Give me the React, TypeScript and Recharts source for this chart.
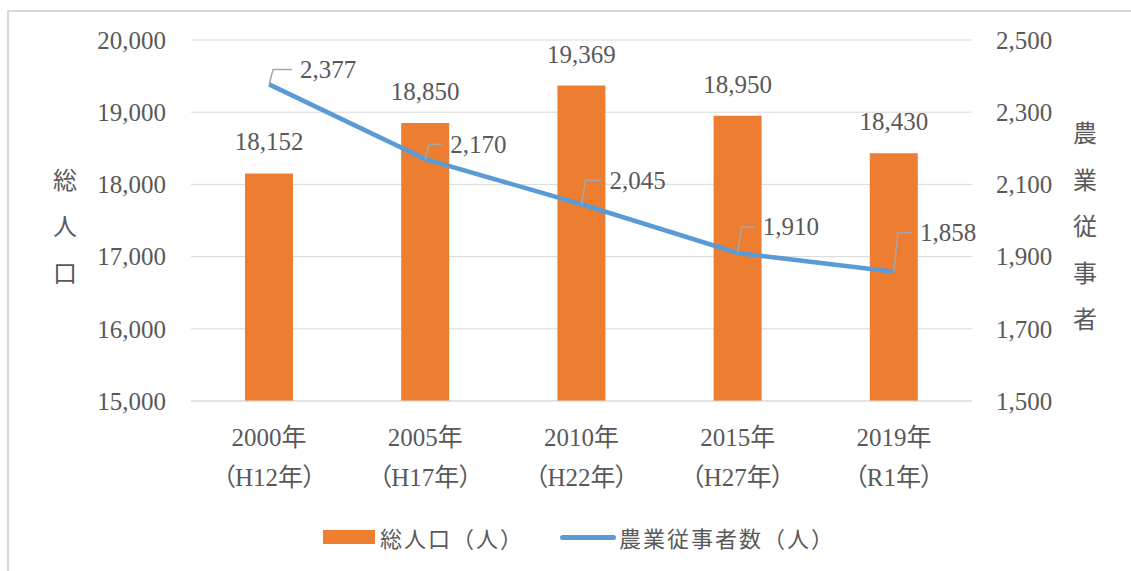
import React from "react";
import {
  ComposedChart,
  Bar,
  Line,
  XAxis,
  YAxis,
  CartesianGrid,
  Legend,
  LabelList,
} from "recharts";

// 年次
const years = ["2000年", "2005年", "2010年", "2015年", "2019年"];
const eras = ["（H12年）", "（H17年）", "（H22年）", "（H27年）", "（R1年）"];

// 総人口（人）
const population = [18152, 18850, 19369, 18950, 18430];
// 農業従事者数（人）
const farmers = [2377, 2170, 2045, 1910, 1858];

const leftTicks = [15000, 16000, 17000, 18000, 19000, 20000];
const rightTicks = [1500, 1700, 1900, 2100, 2300, 2500];

const leftTitle = ["総", "人", "口"];
const rightTitle = ["農", "業", "従", "事", "者"];

// ラベルのずらし量 (dx, dy) – 見た目の調整用
const lineLabelShift: [number, number][] = [
  [31, -15],
  [25, -15],
  [28, -24],
  [25, -26],
  [26, -39],
];

const data = years.map((y, i) => ({
  year: y,
  population: population[i],
  farmers: farmers[i],
}));

const TEXT = "#595959";
const GRID = "#D9D9D9";
const ORANGE = "#ED7D31";
const BLUE = "#5B9BD5";
const FONT = "'Liberation Serif', 'Noto Sans CJK JP', serif";
const fmt = (v: number) => v.toLocaleString("en-US");

const XTick = ({ x, y, payload }: any) => {
  const i = years.indexOf(payload.value);
  return (
    <g>
      <text
        x={x}
        y={y + 36}
        textAnchor="middle"
        dominantBaseline="central"
        fill={TEXT}
        fontSize={25}
        fontFamily={FONT}
      >
        {payload.value}
      </text>
      <text
        x={x}
        y={y + 76}
        textAnchor="middle"
        dominantBaseline="central"
        fill={TEXT}
        fontSize={25}
        fontFamily={FONT}
        style={{ fontFeatureSettings: '"palt"' }}
      >
        {eras[i]}
      </text>
    </g>
  );
};

const VerticalTitle = ({ viewBox, chars, dx }: any) => {
  const cx = viewBox.x + dx;
  const cy = 227;
  const step = 46.5;
  const start = cy - ((chars.length - 1) * step) / 2;
  return (
    <g>
      {chars.map((c: string, i: number) => (
        <text
          key={c + i}
          x={cx}
          y={start + i * step}
          textAnchor="middle"
          dominantBaseline="central"
          fill={TEXT}
          fontSize={24}
          fontFamily={FONT}
        >
          {c}
        </text>
      ))}
    </g>
  );
};

const BarValue = ({ x, y, width, value }: any) => (
  <text
    x={x + width / 2}
    y={y - 23}
    textAnchor="middle"
    fill={TEXT}
    fontSize={25}
    fontFamily={FONT}
  >
    {fmt(value)}
  </text>
);

const LineValue = ({ x, y, value, index }: any) => {
  const [dx, dy] = lineLabelShift[index] || [25, -20];
  const ly = y + dy;
  return (
    <g>
      <path
        d={`M${x},${y} L${x + 4},${ly} L${x + dx - 8},${ly}`}
        stroke="#A6A6A6"
        strokeWidth={1.5}
        fill="none"
      />
      <text
        x={x + dx}
        y={ly}
        textAnchor="start"
        dominantBaseline="central"
        fill={TEXT}
        fontSize={25}
        fontFamily={FONT}
      >
        {fmt(value)}
      </text>
    </g>
  );
};

const LegendBox = () => (
  <div
    style={{
      height: 40,
      display: "flex",
      alignItems: "center",
      paddingLeft: 323,
      fontFamily: FONT,
      fontSize: 22,
      letterSpacing: 2,
      color: TEXT,
    }}
  >
    <span style={{ width: 52, height: 14, background: ORANGE, display: "inline-block" }} />
    <span style={{ marginLeft: 5 }}>総人口（人）</span>
    <span
      style={{
        marginLeft: 36,
        width: 56,
        height: 5,
        borderRadius: 2.5,
        background: BLUE,
        display: "inline-block",
      }}
    />
    <span style={{ marginLeft: 3 }}>農業従事者数（人）</span>
  </div>
);

export default function App() {
  return (
    <div
      style={{
        position: "absolute",
        left: 0,
        top: 0,
        width: 1131,
        height: 571,
        background: "#fff",
        overflow: "hidden",
      }}
    >
      <div
        style={{
          position: "absolute",
          left: 7,
          top: 10,
          width: 1130,
          height: 570,
          borderTop: `2px solid ${GRID}`,
          borderLeft: `2px solid ${GRID}`,
        }}
      />
      <div style={{ position: "absolute", left: 0, top: 0 }}>
        <ComposedChart
          width={1131}
          height={571}
          data={data}
          margin={{ top: 40, right: 0, bottom: 14, left: 0 }}
        >
          <CartesianGrid vertical={false} stroke={GRID} yAxisId="left" />
          <XAxis
            dataKey="year"
            height={116}
            tickLine={false}
            tickSize={0}
            tickMargin={0}
            axisLine={{ stroke: GRID }}
            tick={<XTick />}
            interval={0}
          />
          <YAxis
            yAxisId="left"
            width={191}
            domain={[15000, 20000]}
            ticks={leftTicks}
            tickFormatter={fmt}
            axisLine={false}
            tickLine={false}
            tickSize={0}
            tickMargin={25}
            tick={{ fill: TEXT, fontSize: 25, fontFamily: FONT }}
            label={{
              content: (p: any) => <VerticalTitle viewBox={p.viewBox} chars={leftTitle} dx={65} />,
            }}
          />
          <YAxis
            yAxisId="right"
            orientation="right"
            width={159}
            domain={[1500, 2500]}
            ticks={rightTicks}
            tickFormatter={fmt}
            axisLine={false}
            tickLine={false}
            tickSize={0}
            tickMargin={24}
            tick={{ fill: TEXT, fontSize: 25, fontFamily: FONT }}
            label={{
              content: (p: any) => <VerticalTitle viewBox={p.viewBox} chars={rightTitle} dx={113} />,
            }}
          />
          <Legend verticalAlign="bottom" wrapperStyle={{ left: 0, width: 1131 }} content={<LegendBox />} />
          <Bar
            yAxisId="left"
            dataKey="population"
            name="総人口（人）"
            fill={ORANGE}
            barSize={48}
            isAnimationActive={false}
          >
            <LabelList dataKey="population" content={<BarValue />} />
          </Bar>
          <Line
            yAxisId="right"
            dataKey="farmers"
            name="農業従事者数（人）"
            stroke={BLUE}
            strokeWidth={4.5}
            dot={false}
            activeDot={false}
            type="linear"
            isAnimationActive={false}
          >
            <LabelList dataKey="farmers" content={<LineValue />} />
          </Line>
        </ComposedChart>
      </div>
    </div>
  );
}
